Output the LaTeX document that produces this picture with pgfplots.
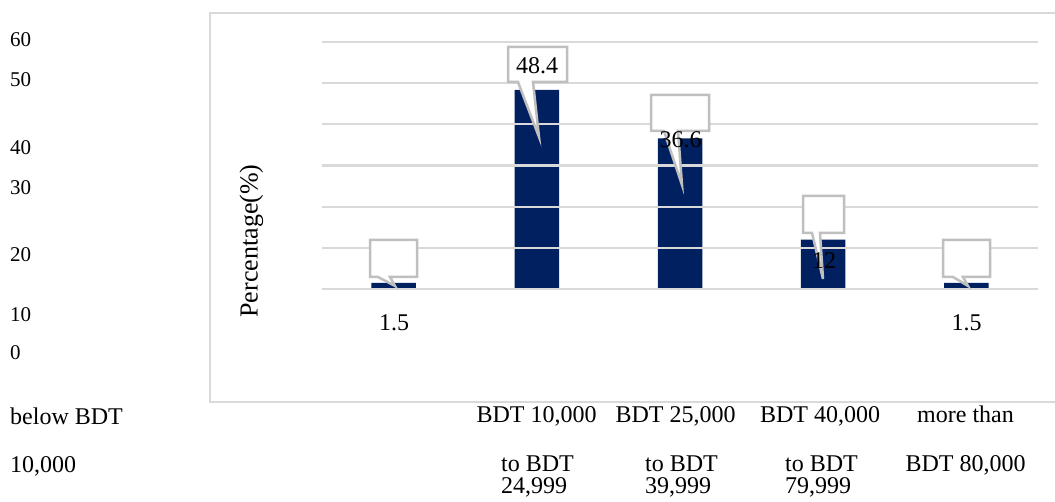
\documentclass[border=0pt]{standalone}
\usepackage{fontspec}
\setmainfont{Liberation Serif}
\usepackage{pgfplots}
\pgfplotsset{compat=1.18}
\definecolor{navy}{HTML}{002060}
\definecolor{gridgray}{HTML}{D9D9D9}
\definecolor{callgray}{HTML}{BFBFBF}
\begin{document}
\begin{tikzpicture}
\path[use as bounding box] (0,0) rectangle (1055pt,502pt);
\begin{scope}[shift={(0pt,502pt)},x=1pt,y=-1pt]
\draw[gridgray,line width=2.2pt] (1060,13) -- (210,13) -- (210,402) -- (1060,402);
\end{scope}
\begin{axis}[at={(322pt,213pt)},anchor=south west,scale only axis,width=716pt,height=247pt,
 xmin=-0.5,xmax=4.5,ymin=0,ymax=60,
 xtick=\empty, ytick={0,10,...,60}, yticklabels={},
 ymajorgrids, grid style={gridgray,line width=2.2pt},
 major tick length=0pt,
 axis line style={draw=none},
 axis on top,
 ybar, bar width=44.5pt,
 clip=false]
\addplot[fill=navy,draw=none] coordinates {(0,1.5) (1,48.4) (2,36.6) (3,12) (4,1.5)};
\end{axis}
\begin{scope}[shift={(0pt,502pt)},x=1pt,y=-1pt,
  every node/.style={font=\fontsize{24}{24}\selectfont,inner sep=0pt},
  co/.style={draw=callgray,fill=white,line width=2.5pt,line join=miter}]
% callouts
\draw[co] (370,277)--(378,277)--(395,286)--(390,277)--(417,277)--(417,240)--(370,240)--cycle;
\draw[co] (508,82)--(518,82)--(539,137)--(533,82)--(567,82)--(567,47)--(508,47)--cycle;
\draw[co] (651,131)--(664,131)--(682,185)--(678,131)--(709,131)--(709,95)--(651,95)--cycle;
\draw[co] (803,233)--(812,233)--(823,279)--(820,233)--(844,233)--(844,196)--(803,196)--cycle;
\draw[co] (943,277)--(953,277)--(968,286)--(963,277)--(990,277)--(990,240)--(943,240)--cycle;
% data labels
\node[anchor=base] at (537,73.3) {48.4};
\node[anchor=base] at (680.5,148) {36.6};
\node[anchor=base] at (824,269) {12};
\node[anchor=base] at (394,330.5) {1.5};
\node[anchor=base] at (966.7,330.5) {1.5};
% y tick labels
\begin{scope}[every node/.style={font=\fontsize{21}{21}\selectfont,inner sep=0pt,anchor=base west}]
\node at (10,47) {60};
\node at (10,87) {50};
\node at (10,155) {40};
\node at (10,195) {30};
\node at (10,262) {20};
\node at (10,322) {10};
\node at (10,360) {0};
\end{scope}
% y label
\node[font=\fontsize{26}{26}\selectfont,rotate=90,anchor=base] at (257.5,241) {Percentage(\%)};
% x labels
\node[anchor=base west] at (10,424.5) {below BDT};
\node[anchor=base west] at (10,473) {10,000};
\node[anchor=base] at (536.5,423) {BDT 10,000};
\node[anchor=base] at (675.5,423) {BDT 25,000};
\node[anchor=base] at (820,423) {BDT 40,000};
\node[anchor=base] at (965.5,423) {more than};
\node[anchor=base west] at (501,472) {to BDT};
\node[anchor=base west] at (501,494) {24,999};
\node[anchor=base west] at (645,472) {to BDT};
\node[anchor=base west] at (645,494) {39,999};
\node[anchor=base west] at (785,472) {to BDT};
\node[anchor=base west] at (785,494) {79,999};
\node[anchor=base] at (965.5,472) {BDT 80,000};
\end{scope}
\end{tikzpicture}
\end{document}
